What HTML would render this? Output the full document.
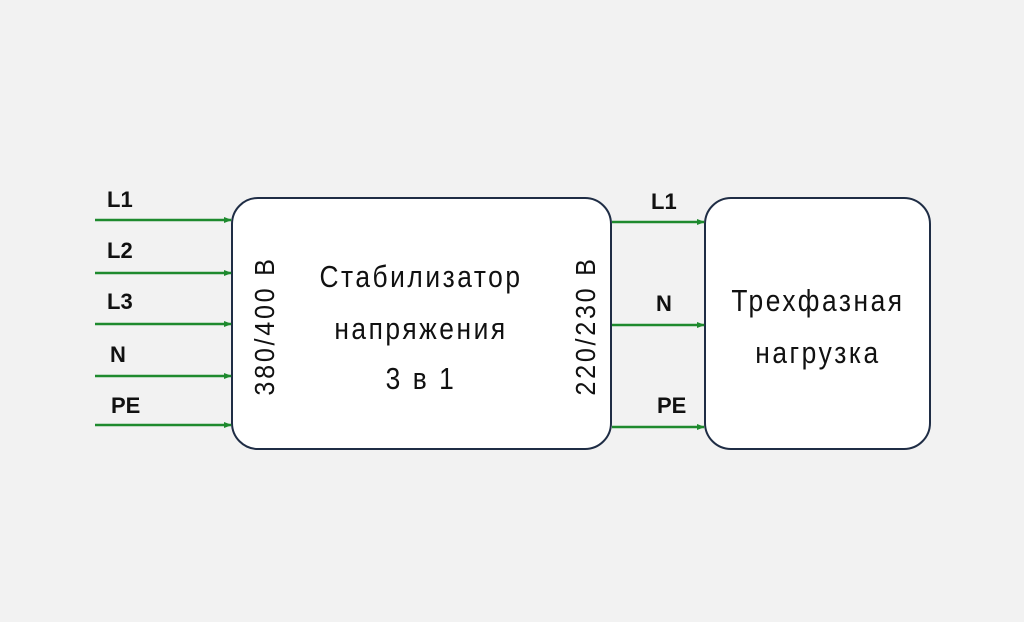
<!DOCTYPE html><html><head><meta charset="utf-8"><style>body{margin:0;background:#f2f2f2}</style></head><body>
<svg width="1024" height="622" xmlns="http://www.w3.org/2000/svg" style="display:block">
<rect width="1024" height="622" fill="#f2f2f2"/>
<defs><marker id="a" markerWidth="8" markerHeight="8" refX="7" refY="4" orient="auto" markerUnits="userSpaceOnUse"><path d="M0,1 L8,4 L0,7Z" fill="#1e8a2e"/></marker></defs>
<rect x="232" y="198" width="379" height="251" rx="26" fill="#fff" stroke="#1f2d45" stroke-width="2"/>
<rect x="705" y="198" width="225" height="251" rx="26" fill="#fff" stroke="#1f2d45" stroke-width="2"/>
<g stroke="#1e8a2e" stroke-width="2.5" marker-end="url(#a)">
<line x1="95" y1="220" x2="231" y2="220"/><line x1="95" y1="273" x2="231" y2="273"/><line x1="95" y1="324" x2="231" y2="324"/><line x1="95" y1="376" x2="231" y2="376"/><line x1="95" y1="425" x2="231" y2="425"/>
<line x1="612" y1="222" x2="704" y2="222"/><line x1="612" y1="325" x2="704" y2="325"/><line x1="612" y1="427" x2="704" y2="427"/>
</g>
<g font-family="Liberation Sans, sans-serif" font-size="22" fill="#111" font-weight="bold">
<text x="107" y="207">L1</text><text x="107" y="258">L2</text><text x="107" y="309">L3</text><text x="110" y="362">N</text><text x="111" y="413">PE</text>
<text x="651" y="209">L1</text><text x="656" y="311">N</text><text x="657" y="413">PE</text>
</g>
<g font-family="Liberation Sans, sans-serif" font-size="28" fill="#111">
<text transform="translate(274,326) rotate(-90) scale(0.9,1)" text-anchor="middle" letter-spacing="3">380/400 В</text>
<text transform="translate(595,326) rotate(-90) scale(0.9,1)" text-anchor="middle" letter-spacing="3">220/230 В</text>
<g font-size="31" text-anchor="middle" letter-spacing="3">
<text transform="translate(421,287) scale(0.85,1)">Стабилизатор</text>
<text transform="translate(421,339) scale(0.85,1)">напряжения</text>
<text transform="translate(421,389) scale(0.85,1)">3 в 1</text>
<text transform="translate(818,311) scale(0.85,1)">Трехфазная</text>
<text transform="translate(818,363) scale(0.85,1)">нагрузка</text>
</g></g>
</svg></body></html>
